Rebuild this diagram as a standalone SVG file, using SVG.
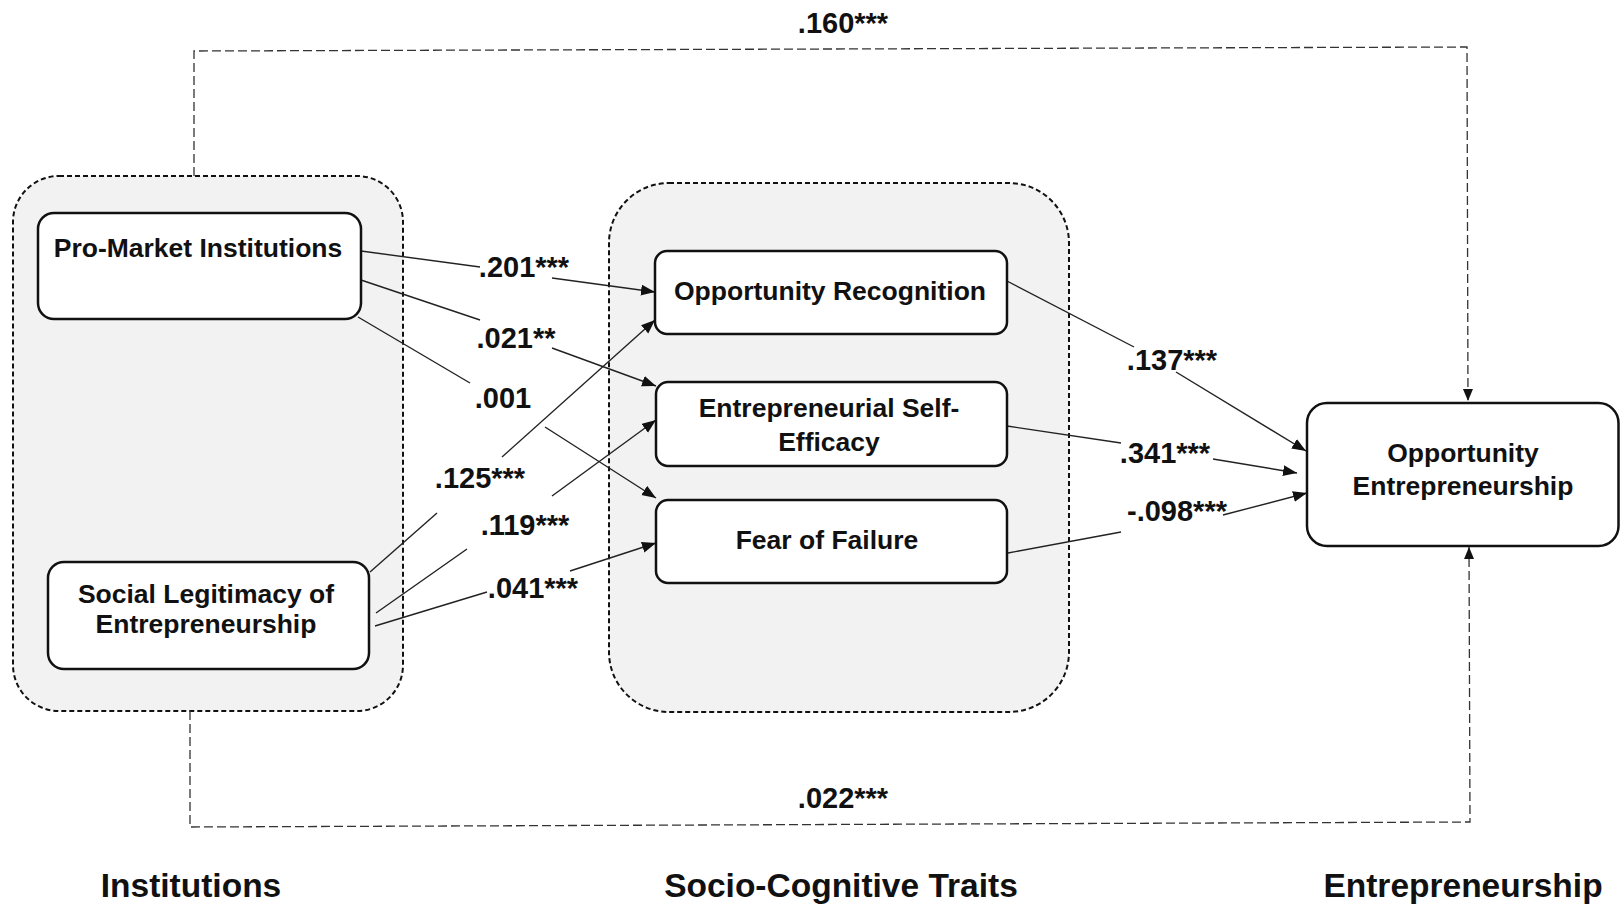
<svg xmlns="http://www.w3.org/2000/svg" width="1621" height="908" viewBox="0 0 1621 908">
  <style>
    .group { fill: #f2f2f2; stroke: #111; stroke-width: 2; stroke-dasharray: 5 3; }
    .node { fill: #fff; stroke: #111; stroke-width: 2.5; }
    .label { font-family: "Liberation Sans", Arial, sans-serif; font-weight: bold; font-size: 26.5px; fill: #111; text-anchor: middle; }
    .coef { font-family: "Liberation Sans", Arial, sans-serif; font-weight: bold; font-size: 29px; fill: #111; text-anchor: middle; }
    .title { font-family: "Liberation Sans", Arial, sans-serif; font-weight: bold; font-size: 33.5px; fill: #111; text-anchor: middle; }
    .path { fill: none; stroke: #222; stroke-width: 1.4; }
    .direct { fill: none; stroke: #333; stroke-width: 1.3; stroke-dasharray: 9 4; }
  </style>
  <defs>
    <marker id="arrow" markerUnits="userSpaceOnUse" markerWidth="15" markerHeight="12" refX="14" refY="5.5" orient="auto">
      <path d="M0,0 L14,5.5 L0,11 z" fill="#111"/>
    </marker>
    <marker id="arrowSmall" markerUnits="userSpaceOnUse" markerWidth="13" markerHeight="11" refX="12" refY="5" orient="auto">
      <path d="M0,0 L12,5 L0,10 z" fill="#111"/>
    </marker>
  </defs>

  <rect width="1621" height="908" fill="#fff"/>

  <!-- Group containers -->
  <g id="group-institutions">
    <rect class="group" x="13" y="176" width="390" height="535" rx="46" ry="46"/>
  </g>
  <g id="group-traits">
    <rect class="group" x="609" y="183" width="460" height="529" rx="60" ry="60"/>
  </g>

  <!-- Connectors -->
  <g id="connectors">
    <!-- Direct effects (dashed) -->
    <polyline class="direct" points="194,176 194,51 1467,47 1468,401" marker-end="url(#arrowSmall)"/>
    <polyline class="direct" points="190,711 190,827 1470,822 1469,547" marker-end="url(#arrowSmall)"/>

    <!-- Pro-Market Institutions -> traits -->
    <line class="path" x1="361" y1="251" x2="480" y2="267"/>
    <line class="path" x1="552" y1="278" x2="655" y2="292" marker-end="url(#arrow)"/>

    <line class="path" x1="361" y1="280" x2="480" y2="320"/>
    <line class="path" x1="552" y1="348" x2="656" y2="386" marker-end="url(#arrow)"/>

    <line class="path" x1="358" y1="317" x2="470" y2="383"/>
    <line class="path" x1="545" y1="427" x2="656" y2="498" marker-end="url(#arrow)"/>

    <!-- Social Legitimacy -> traits -->
    <line class="path" x1="370" y1="572" x2="437" y2="513"/>
    <line class="path" x1="502" y1="457" x2="655" y2="320" marker-end="url(#arrow)"/>

    <line class="path" x1="376" y1="613" x2="467" y2="549"/>
    <line class="path" x1="552" y1="496" x2="656" y2="420" marker-end="url(#arrow)"/>

    <line class="path" x1="375" y1="626" x2="487" y2="592"/>
    <line class="path" x1="570" y1="571" x2="656" y2="543" marker-end="url(#arrow)"/>

    <!-- Traits -> Opportunity Entrepreneurship -->
    <line class="path" x1="1007" y1="281" x2="1134" y2="347"/>
    <line class="path" x1="1176" y1="372" x2="1306" y2="451" marker-end="url(#arrow)"/>

    <line class="path" x1="1007" y1="426" x2="1121" y2="443"/>
    <line class="path" x1="1213" y1="459" x2="1297" y2="473" marker-end="url(#arrow)"/>

    <line class="path" x1="1008" y1="553" x2="1121" y2="532"/>
    <line class="path" x1="1223" y1="515" x2="1307" y2="493" marker-end="url(#arrow)"/>

    <!-- Path coefficients -->
    <text class="coef" x="843" y="33">.160***</text>
    <text class="coef" x="843" y="808">.022***</text>
    <text class="coef" x="524" y="277">.201***</text>
    <text class="coef" x="516" y="348">.021**</text>
    <text class="coef" x="503" y="408">.001</text>
    <text class="coef" x="480" y="488">.125***</text>
    <text class="coef" x="525" y="535">.119***</text>
    <text class="coef" x="533" y="598">.041***</text>
    <text class="coef" x="1172" y="370">.137***</text>
    <text class="coef" x="1165" y="463">.341***</text>
    <text class="coef" x="1177" y="521">-.098***</text>
  </g>

  <!-- Nodes -->
  <g id="node-pro-market">
    <rect class="node" x="38" y="213" width="323" height="106" rx="16" ry="16"/>
    <text class="label" x="198" y="257">Pro-Market Institutions</text>
  </g>
  <g id="node-social-legitimacy">
    <rect class="node" x="48" y="562" width="321" height="107" rx="16" ry="16"/>
    <text class="label" x="206" y="603">Social Legitimacy of</text>
    <text class="label" x="206" y="633">Entrepreneurship</text>
  </g>
  <g id="node-opportunity-recognition">
    <rect class="node" x="655" y="251" width="352" height="83" rx="12" ry="12"/>
    <text class="label" x="830" y="300">Opportunity Recognition</text>
  </g>
  <g id="node-self-efficacy">
    <rect class="node" x="656" y="382" width="351" height="84" rx="12" ry="12"/>
    <text class="label" x="829" y="417">Entrepreneurial Self-</text>
    <text class="label" x="829" y="451">Efficacy</text>
  </g>
  <g id="node-fear-of-failure">
    <rect class="node" x="656" y="500" width="351" height="83" rx="12" ry="12"/>
    <text class="label" x="827" y="549">Fear of Failure</text>
  </g>
  <g id="node-opportunity-entrepreneurship">
    <rect class="node" x="1307" y="403" width="311.5" height="143" rx="20" ry="20"/>
    <text class="label" x="1463" y="462">Opportunity</text>
    <text class="label" x="1463" y="495">Entrepreneurship</text>
  </g>

  <!-- Column headings -->
  <g id="headings">
    <text class="title" x="191" y="897">Institutions</text>
    <text class="title" x="841" y="897">Socio-Cognitive Traits</text>
    <text class="title" x="1463" y="897">Entrepreneurship</text>
  </g>
</svg>
